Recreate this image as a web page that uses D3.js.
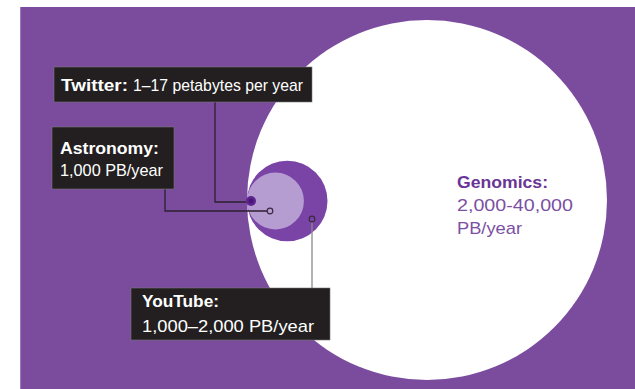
<!DOCTYPE html>
<html><head><meta charset="utf-8">
<script src="https://cdn.jsdelivr.net/npm/d3@7"></script>
<style>html,body{margin:0;padding:0;background:#fff;}svg{display:block;font-family:"Liberation Sans",Arial,sans-serif;}</style>
</head><body>
<svg id="c" width="635" height="389"></svg>
<script>
// data (petabytes per year, upper estimates)
const categories = ["Genomics", "YouTube", "Astronomy", "Twitter"];
const values = [40000, 2000, 1000, 17];
const titles = ["Genomics:", "YouTube:", "Astronomy:", "Twitter:"];
const subtitles = ["2,000-40,000 PB/year", "1,000\u20132,000 PB/year", "1,000 PB/year", "1\u201317 petabytes per year"];

const W = 635, H = 389;
const svg = d3.select("#c");
svg.append("rect").attr("x", 20).attr("y", 7).attr("width", W - 20).attr("height", H - 7).attr("fill", "#7b4c9e");
svg.append("line").attr("x1", 20.5).attr("x2", 20.5).attr("y1", 7).attr("y2", H).attr("stroke", "#9a7db5").attr("stroke-width", 1);

const r = d3.scaleSqrt().domain([0, d3.max(values)]).range([0, 180]);
const leftX = 247, cy = 201;
const fills = { Genomics: "#ffffff", YouTube: "#7a43a6", Astronomy: "#b69dd1", Twitter: "#5e2590" };
const data = categories.map((c, i) => ({ cat: c, v: values[i], title: titles[i], sub: subtitles[i] }));
const rr = d => Math.max(r(d.v), 5);

svg.selectAll("circle.bub").data(data).join("circle").attr("class", "bub")
  .attr("cx", d => leftX + rr(d) - (d.cat === "Twitter" ? 1 : 0))
  .attr("cy", d => d.cat === "Genomics" ? cy - 1 : cy)
  .attr("r", rr)
  .attr("fill", d => fills[d.cat]);
const tw = data[3];
svg.append("circle").attr("cx", leftX + rr(tw) - 1).attr("cy", cy).attr("r", 2.5).attr("fill", "#4a1675");

// connectors
const lineDark = "#2b2030";
function path(pts, color) {
  svg.append("path").attr("d", d3.line()(pts)).attr("fill", "none").attr("stroke", color).attr("stroke-width", 1.3);
}
path([[215, 102], [215, 202], [246, 202]], lineDark);
path([[165, 189], [165, 211], [267, 211]], lineDark);
path([[312, 222], [312, 288]], "#8a8a8a");
function marker(x, y, col) {
  svg.append("circle").attr("cx", x).attr("cy", y).attr("r", 2.8).attr("fill", "none").attr("stroke", col).attr("stroke-width", 1.2);
}
marker(270, 211, "#3a2a40");
marker(312, 219, "#3a2a40");

// label boxes
function box(x, y, w, h) {
  svg.append("rect").attr("x", x).attr("y", y).attr("width", w).attr("height", h).attr("fill", "#231f20").attr("stroke", "#777").attr("stroke-width", 0.6);
}
box(54, 67, 258, 35);
box(52, 127, 122, 62);
box(131, 288, 199, 52);

function txt(x, y, s, col, bold, len) {
  return svg.append("text").attr("x", x).attr("y", y).attr("fill", col).attr("font-size", 17)
    .attr("font-weight", bold ? "bold" : "normal")
    .attr("textLength", len).attr("lengthAdjust", "spacingAndGlyphs").text(s);
}
// Twitter (single line)
txt(61, 91, tw.title, "#fff", true, 67);
txt(133, 91, tw.sub, "#fff", false, 170);
// Astronomy
txt(60, 154, data[2].title, "#fff", true, 99);
txt(60, 176, data[2].sub, "#fff", false, 103);
// YouTube
txt(142, 307, data[1].title, "#fff", true, 77);
txt(142, 332, data[1].sub, "#fff", false, 172);
// Genomics
const g = data[0];
const parts = g.sub.split(" ");
txt(457, 188, g.title, "#6a3596", true, 91);
txt(457, 211, parts[0], "#7b4fa3", false, 116);
txt(457, 234, parts[1], "#7b4fa3", false, 65);
</script>
</body></html>
